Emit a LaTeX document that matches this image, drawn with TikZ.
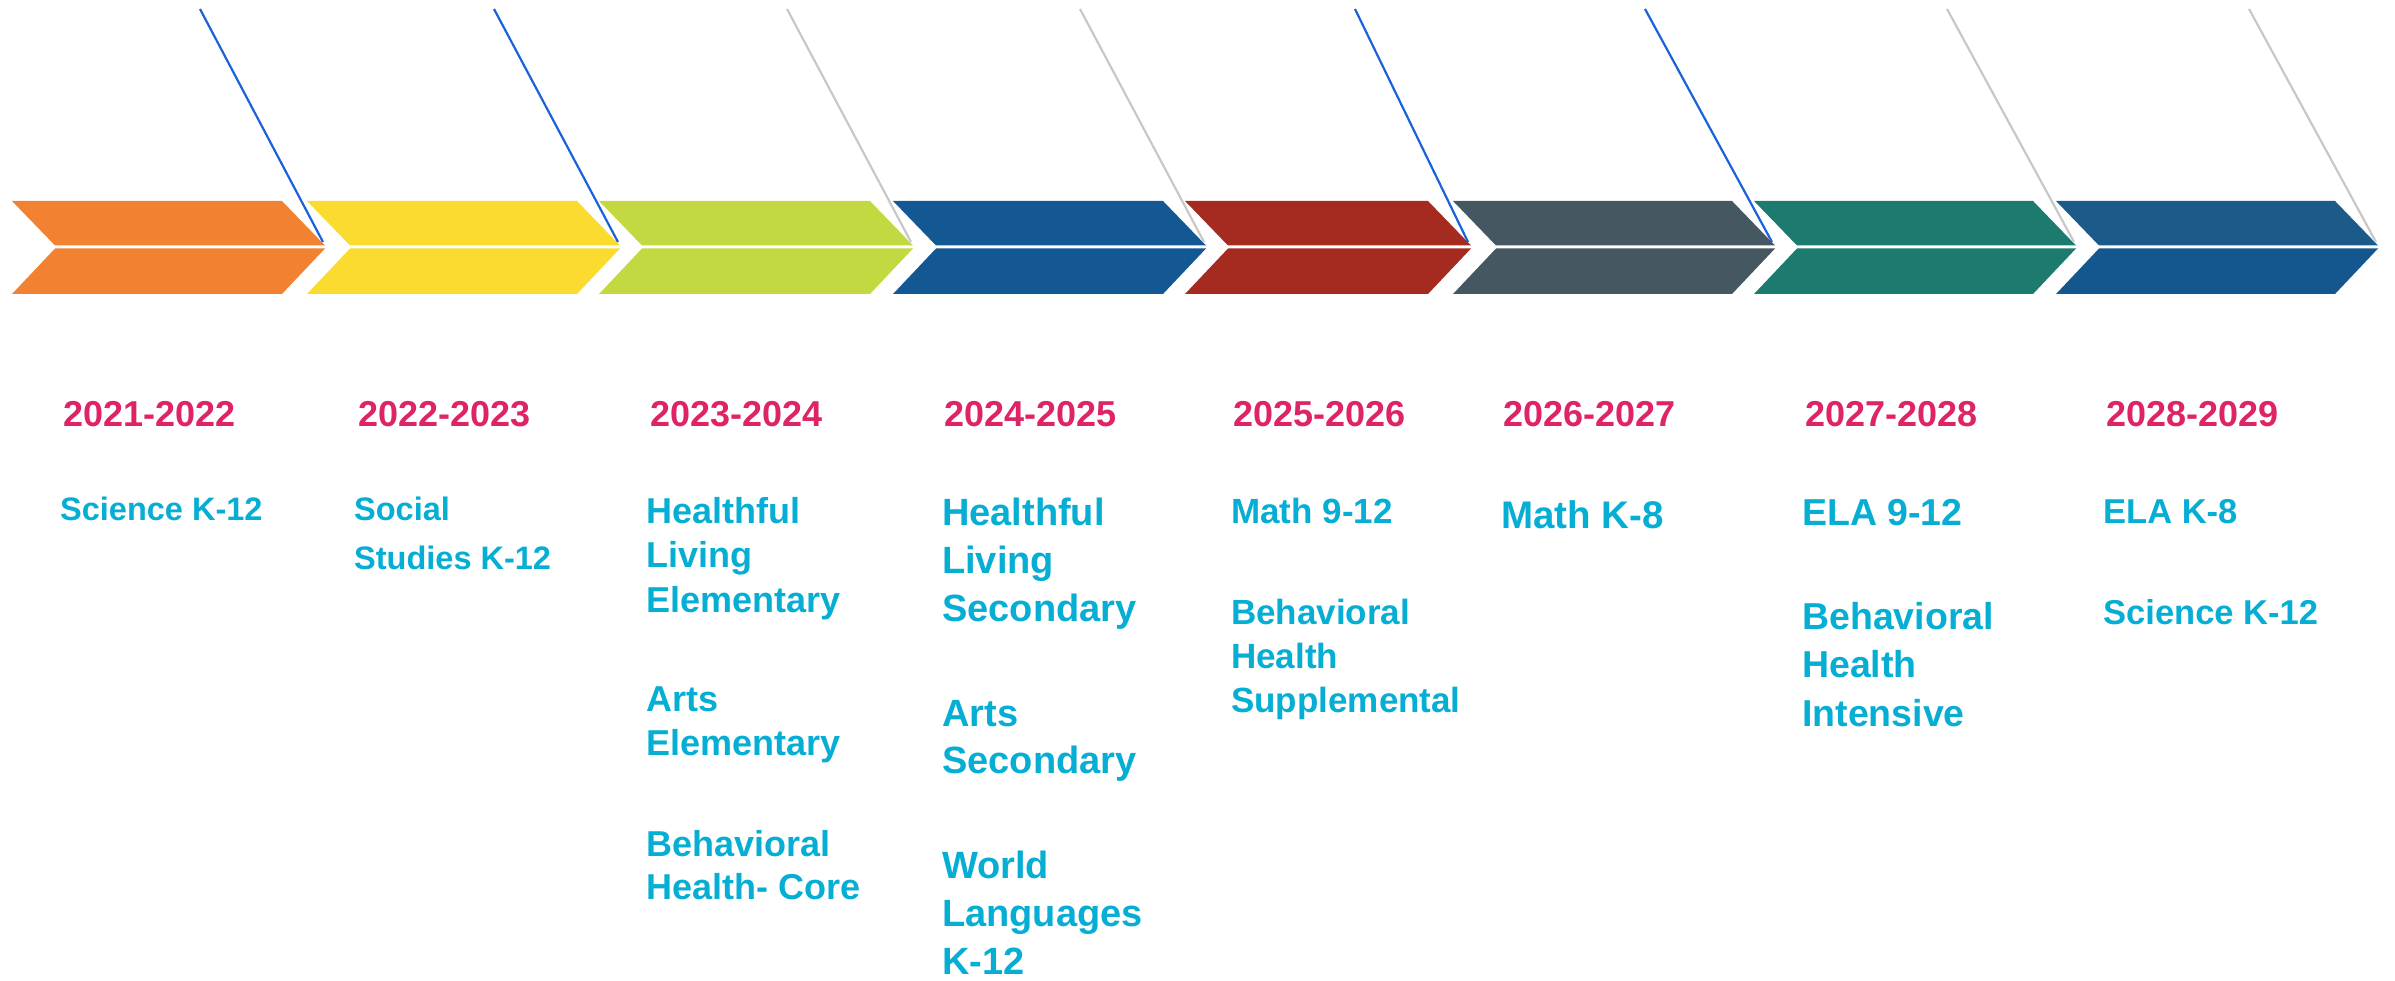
\documentclass[tikz,border=0pt]{standalone}
\usepackage{fontspec}
\setmainfont{Liberation Sans}

\definecolor{chOrange}{HTML}{F38132}
\definecolor{chYellow}{HTML}{FBDB30}
\definecolor{chGreen}{HTML}{C3D841}
\definecolor{chBlue}{HTML}{145893}
\definecolor{chRed}{HTML}{A52A1F}
\definecolor{chGrey}{HTML}{455761}
\definecolor{chTeal}{HTML}{1C7A6E}
\definecolor{chNavyTop}{HTML}{1B5A89}
\definecolor{chNavy}{HTML}{14578F}
\definecolor{leadBlue}{HTML}{1A62DA}
\definecolor{leadGrey}{HTML}{C8C8C8}
\definecolor{yearPink}{HTML}{DE2366}
\definecolor{topicCyan}{HTML}{06AED4}

\tikzset{
  year/.style={anchor=base west, inner sep=0pt, text=yearPink,
    font=\fontsize{36}{43}\selectfont\bfseries},
  topic/.style 2 args={anchor=north west, inner sep=0pt, text=topicCyan, align=left,
    font=\fontsize{#1}{#2}\selectfont\bfseries},
  leader/.style={draw=#1, line width=2.2pt},
}

\begin{document}
\begin{tikzpicture}[x=1pt,y=-1pt]
\useasboundingbox (0,0) rectangle (2395,981);

% chevrons, upper and lower halves
\fill[chOrange] (12,201) -- (282,201) -- (325,245.5) -- (55,245.5) -- cycle;
\fill[chOrange] (55,248.5) -- (325,248.5) -- (282,294) -- (12,294) -- cycle;
\fill[chYellow] (307,201) -- (577,201) -- (620,245.5) -- (350,245.5) -- cycle;
\fill[chYellow] (350,248.5) -- (620,248.5) -- (577,294) -- (307,294) -- cycle;
\fill[chGreen] (599,201) -- (870,201) -- (913,245.5) -- (642,245.5) -- cycle;
\fill[chGreen] (642,248.5) -- (913,248.5) -- (870,294) -- (599,294) -- cycle;
\fill[chBlue] (893,201) -- (1163,201) -- (1206,245.5) -- (936,245.5) -- cycle;
\fill[chBlue] (936,248.5) -- (1206,248.5) -- (1163,294) -- (893,294) -- cycle;
\fill[chRed] (1185,201) -- (1428,201) -- (1471,245.5) -- (1228,245.5) -- cycle;
\fill[chRed] (1228,248.5) -- (1471,248.5) -- (1428,294) -- (1185,294) -- cycle;
\fill[chGrey] (1453,201) -- (1732,201) -- (1775,245.5) -- (1496,245.5) -- cycle;
\fill[chGrey] (1496,248.5) -- (1775,248.5) -- (1732,294) -- (1453,294) -- cycle;
\fill[chTeal] (1754,201) -- (2033,201) -- (2076,245.5) -- (1797,245.5) -- cycle;
\fill[chTeal] (1797,248.5) -- (2076,248.5) -- (2033,294) -- (1754,294) -- cycle;
\fill[chNavyTop] (2056,201) -- (2335,201) -- (2378,245.5) -- (2099,245.5) -- cycle;
\fill[chNavy] (2099,248.5) -- (2378,248.5) -- (2335,294) -- (2056,294) -- cycle;

% leader lines
\coordinate (top1) at (200,9);  \coordinate (tip1) at (323,242);
\coordinate (top2) at (494,9);  \coordinate (tip2) at (618,242);
\coordinate (top3) at (787,9);  \coordinate (tip3) at (911,242);
\coordinate (top4) at (1080,9); \coordinate (tip4) at (1204,242);
\coordinate (top5) at (1355,9); \coordinate (tip5) at (1468,242);
\coordinate (top6) at (1645,9); \coordinate (tip6) at (1772,242);
\coordinate (top7) at (1947,9); \coordinate (tip7) at (2074,242);
\coordinate (top8) at (2249,9); \coordinate (tip8) at (2376,242);
\draw[leader=leadBlue] (top1) -- (tip1);
\draw[leader=leadBlue] (top2) -- (tip2);
\draw[leader=leadGrey] (top3) -- (tip3);
\draw[leader=leadGrey] (top4) -- (tip4);
\draw[leader=leadBlue] (top5) -- (tip5);
\draw[leader=leadBlue] (top6) -- (tip6);
\draw[leader=leadGrey] (top7) -- (tip7);
\draw[leader=leadGrey] (top8) -- (tip8);

% school years
\node[year] (y2021) at (63,426) {2021-2022};
\node[year] (y2022) at (358,426) {2022-2023};
\node[year] (y2023) at (650,426) {2023-2024};
\node[year] (y2024) at (944,426) {2024-2025};
\node[year] (y2025) at (1233,426) {2025-2026};
\node[year] (y2026) at (1503,426) {2026-2027};
\node[year] (y2027) at (1805,426) {2027-2028};
\node[year] (y2028) at (2106,426) {2028-2029};

% subjects
\node[topic={32.5}{40}] (sci1) at (60,497) {Science K-12};
\node[topic={32.5}{49}] (soc) at (354,497) {Social\\Studies K-12};

\node[topic={36}{44.5}] (hle) at (646,497) {Healthful\\Living\\Elementary};
\node[topic={36}{43.5}] (arte) at (646,687) {Arts\\Elementary};
\node[topic={36}{43.5}] (bhc) at (646,830) {Behavioral\\Health- Core};

\node[topic={38}{48}] (hls) at (942,498) {Healthful\\Living\\Secondary};
\node[topic={38}{47}] (arts) at (942,700) {Arts\\Secondary};
\node[topic={38}{48}] (wl) at (942,851) {World\\Languages\\K-12};

\node[topic={35}{42}] (m912) at (1231,498) {Math 9-12};
\node[topic={35}{44}] (bhs) at (1231,599) {Behavioral\\Health\\Supplemental};

\node[topic={38.5}{46}] (mk8) at (1501,500) {Math K-8};

\node[topic={37.5}{45}] (e912) at (1802,499) {ELA 9-12};
\node[topic={37.5}{48.5}] (bhi) at (1802,602) {Behavioral\\Health\\Intensive};

\node[topic={34.5}{41}] (ek8) at (2103,499) {ELA K-8};
\node[topic={34.5}{41}] (sci2) at (2103,599) {Science K-12};
\end{tikzpicture}
\end{document}
